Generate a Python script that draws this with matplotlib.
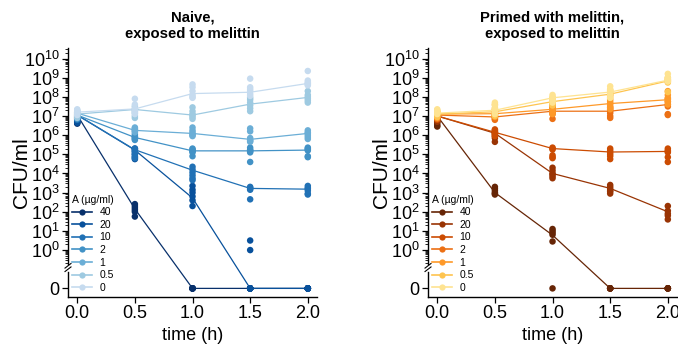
import numpy as np
import matplotlib.pyplot as plt
from matplotlib.lines import Line2D
from matplotlib import transforms

plt.rcParams['font.family'] = ['Liberation Sans', 'DejaVu Sans']
plt.rcParams['mathtext.fontset'] = 'custom'
plt.rcParams['mathtext.rm'] = 'Liberation Sans'
plt.rcParams['mathtext.it'] = 'Liberation Sans:italic'
plt.rcParams['mathtext.bf'] = 'Liberation Sans:bold'

times = [0.0, 0.5, 1.0, 1.5, 2.0]
concs = ['40', '20', '10', '2', '1', '0.5', '0']

blues = ['#08306b', '#08519c', '#2171b5', '#4292c6', '#6baed6', '#9ecae1', '#c6dbef']
browns = ['#662506', '#993404', '#cc4c02', '#ec7014', '#fe9929', '#fec44f', '#fee391']

# log10 CFU/ml per replicate, one list per time point; None = no colonies
naive_40 = [[6.85, 6.75, 6.65, 6.6, 6.9, 6.7],
            [2.4, 2.3, 2.2, 2.1, 2.0, 1.75],
            [None] * 6, [None] * 6, [None] * 6]
naive_20 = [[6.9, 6.8, 6.7, 6.95, 6.85, 6.65],
            [5.3, 5.25, 5.15, 5.0, 4.85, 4.75],
            [3.35, 3.15, 3.0, 2.8, 2.6, 2.3],
            [0.5, 0.0, None, None, None, None],
            [None] * 6]
naive_10 = [[7.0, 6.9, 6.8, 7.05, 6.95, 6.85],
            [5.3, 5.2, 5.1, 5.0, 4.9, 4.8],
            [4.35, 4.2, 4.05, 3.9, 3.75, 3.65],
            [3.3, 3.25, 3.2, 3.15, 2.65],
            [3.35, 3.25, 3.2, 3.1, 2.9, 2.95]]
naive_2 = [[7.1, 7.0, 6.9, 6.95, 7.05, 6.85],
           [6.05, 5.95, 5.9, 5.85, 5.8, 5.75],
           [5.3, 5.2, 5.15, 5.1, 4.9, 5.25],
           [5.35, 5.25, 5.2, 5.15, 5.1, 4.6],
           [5.35, 5.3, 5.25, 5.2, 4.9, 4.85]]
naive_1 = [[7.2, 7.1, 7.0, 6.95, 7.15, 7.05],
           [6.4, 6.3, 6.25, 6.2, 6.15, 6.35],
           [6.4, 6.25, 6.15, 6.05, 5.95, 6.0],
           [6.35, 6.2, 5.85, 5.75, 5.7, 5.65],
           [6.25, 6.15, 6.1, 6.0, 5.9, 5.8]]
naive_05 = [[7.2, 7.1, 7.0, 6.9, 7.15, 7.25],
            [7.5, 7.35, 7.25, 7.15, 7.0, 6.9],
            [7.45, 7.25, 7.05, 6.95, 6.85, 7.1],
            [7.95, 7.85, 7.7, 7.55, 7.4, 7.25],
            [8.3, 8.1, 8.0, 7.9, 7.8, 7.7]]
naive_0 = [[7.35, 7.25, 7.2, 7.15, 7.3, 7.05],
           [7.9, 7.6, 7.4, 7.3, 7.2, 7.1],
           [8.65, 8.5, 8.3, 8.1, 7.95, 8.0],
           [8.95, 8.5, 8.4, 8.3, 8.15, 8.05],
           [9.35, 8.85, 8.75, 8.65, 8.7, 8.6]]

# group means (log10 CFU/ml) joined by the lines
naive_mean = [[7.05, 2.15, None, None, None],
              [7.05, 5.22, 2.72, None, None],
              [7.05, 5.24, 4.17, 3.22, 3.18],
              [7.05, 5.88, 5.18, 5.18, 5.22],
              [7.15, 6.25, 6.09, 5.78, 6.09],
              [7.10, 7.34, 7.05, 7.62, 7.97],
              [7.20, 7.37, 8.17, 8.24, 8.70]]

primed_40 = [[6.9, 6.8, 6.7, 6.5, 6.45, 6.6],
             [3.3, 3.2, 3.1, 3.0, 2.95, 2.9],
             [1.1, 1.0, 0.9, 0.8, 0.45, None],
             [None] * 6, [None] * 6]
primed_20 = [[6.95, 6.85, 6.75, 6.7, 6.9, 6.8],
             [6.25, 6.15, 6.05, 5.95, 5.85, 5.65],
             [4.3, 4.15, 4.0, 3.95, 3.85, 3.75],
             [3.4, 3.3, 3.2, 3.1, 3.05, 2.95],
             [2.3, 2.05, 1.9, 1.8, 1.6]]
primed_10 = [[7.0, 6.9, 6.8, 7.05, 6.95, 6.85],
             [6.3, 6.2, 6.15, 6.1, 6.05, 5.95],
             [5.35, 5.3, 5.25, 4.95, 4.85, 4.8],
             [5.3, 5.2, 5.1, 5.0, 4.9, 4.75],
             [5.3, 5.2, 5.15, 5.1, 4.85, 4.6]]
primed_2 = [[7.1, 7.0, 6.95, 6.85, 7.05, 6.9],
            [7.1, 7.0, 6.95, 6.9, 6.85, 6.8],
            [7.45, 7.35, 7.25, 7.2, 7.1, 6.85],
            [7.45, 7.35, 7.25, 7.15, 7.0, 6.9],
            [7.9, 7.75, 7.6, 7.5, 7.1, 7.05]]
primed_1 = [[7.2, 7.1, 7.0, 6.9, 7.05, 7.15],
            [7.3, 7.2, 7.1, 7.05, 7.0, 6.95],
            [7.55, 7.45, 7.35, 7.3, 7.2, 7.1],
            [7.85, 7.75, 7.65, 7.55, 7.45, 7.35],
            [8.3, 8.1, 7.95, 7.85, 7.75, 7.6]]
primed_05 = [[7.2, 7.1, 7.05, 6.95, 7.15, 7.25],
             [7.6, 7.4, 7.3, 7.2, 7.1, 7.0],
             [7.95, 7.85, 7.75, 7.65, 7.55, 7.7],
             [8.35, 8.25, 8.15, 8.05, 7.95, 8.1],
             [9.0, 8.9, 8.85, 8.8, 8.75, 8.25]]
primed_0 = [[7.35, 7.3, 7.2, 7.1, 7.25, 7.15],
            [7.7, 7.55, 7.4, 7.3, 7.2, 7.1],
            [8.1, 8.0, 7.9, 7.8, 7.7, 7.85],
            [8.55, 8.4, 8.3, 8.2, 8.1, 7.95],
            [9.2, 9.0, 8.9, 8.85, 8.8, 8.95]]

primed_mean = [[7.0, 3.0, 0.78, None, None],
               [7.0, 6.1, 4.0, 3.22, 2.0],
               [7.0, 6.15, 5.3, 5.12, 5.15],
               [7.05, 6.95, 7.25, 7.25, 7.6],
               [7.1, 7.12, 7.35, 7.65, 7.85],
               [7.1, 7.22, 7.75, 8.14, 8.83],
               [7.15, 7.30, 7.95, 8.25, 8.87]]

naive_pts = [naive_40, naive_20, naive_10, naive_2, naive_1, naive_05, naive_0]
primed_pts = [primed_40, primed_20, primed_10, primed_2, primed_1, primed_05, primed_0]

ZERO_Y = -2.0   # where a zero count sits below the axis break
YMIN, YMAX = -2.45, 10.55


def ypos(v):
    return ZERO_Y if v is None else v


def draw_panel(ax, points, means, colors, title):
    for pts, mean, c in zip(points, means, colors):
        ax.plot(times, [ypos(v) for v in mean], color=c, lw=0.9, zorder=2)
        xs = [t for t, col in zip(times, pts) for v in col]
        ys = [ypos(v) for col in pts for v in col]
        ax.scatter(xs, ys, s=22, color=c, edgecolors='none', zorder=2)

    ax.set_xlim(-0.08, 2.08)
    ax.set_ylim(YMIN, YMAX)
    ax.set_xticks(times)
    ax.set_xticklabels(['0.0', '0.5', '1.0', '1.5', '2.0'])
    ax.set_yticks([ZERO_Y] + list(range(11)))
    ax.set_yticklabels(['0'] + ['$10^{%d}$' % k for k in range(11)])
    minor = [k + np.log10(m) for k in range(-1, 11) for m in range(2, 10)]
    ax.set_yticks([v for v in minor if -0.75 < v < 10.5], minor=True)

    ax.tick_params(axis='both', which='major', length=4, width=0.9,
                   direction='out', pad=2)
    ax.tick_params(axis='y', which='major', labelsize=13)
    ax.tick_params(axis='x', which='major', labelsize=13)
    ax.tick_params(axis='y', which='minor', length=2.5, width=0.6)

    for side in ('top', 'right'):
        ax.spines[side].set_visible(False)
    for side in ('left', 'bottom'):
        ax.spines[side].set_linewidth(1.0)
    ax.spines['left'].set_bounds(-0.75, YMAX)

    # lower piece of the broken y axis plus the // marks
    tr = transforms.blended_transform_factory(ax.transAxes, ax.transData)
    ax.plot([0, 0], [YMIN, -1.15], color='k', lw=1.0, transform=tr, clip_on=False)
    for y0 in (-1.0, -0.82):
        ax.plot([-0.012, 0.012], [y0 - 0.12, y0 + 0.12], color='k', lw=0.8,
                transform=tr, clip_on=False)

    ax.set_xlabel('time (h)', fontsize=13, labelpad=3)
    ax.set_ylabel('CFU/ml', fontsize=15, labelpad=-5)
    ax.set_title(title, fontsize=10.7, fontweight='bold', pad=7, linespacing=1.25)

    handles = [Line2D([], [], color=c, lw=1.2, marker='o', markersize=4.5,
                      markeredgewidth=0) for c in colors]
    ax.legend(handles, concs, title='A (\u00b5g/ml)', loc='lower left',
              bbox_to_anchor=(0.0, 0.0), frameon=False, fontsize=7.5,
              title_fontsize=7.5, handlelength=1.9, handletextpad=0.7,
              labelspacing=0.25, borderaxespad=0.2, borderpad=0.2,
              alignment='left')


fig = plt.figure(figsize=(6.78, 3.54), dpi=100)
ax1 = fig.add_axes([0.1003, 0.161, 0.3673, 0.7034])
ax2 = fig.add_axes([0.6313, 0.161, 0.3673, 0.7034])

draw_panel(ax1, naive_pts, naive_mean, blues, 'Naive,\nexposed to melittin')
draw_panel(ax2, primed_pts, primed_mean, browns,
           'Primed with melittin,\nexposed to melittin')

fig.savefig('out.png', dpi=100)
